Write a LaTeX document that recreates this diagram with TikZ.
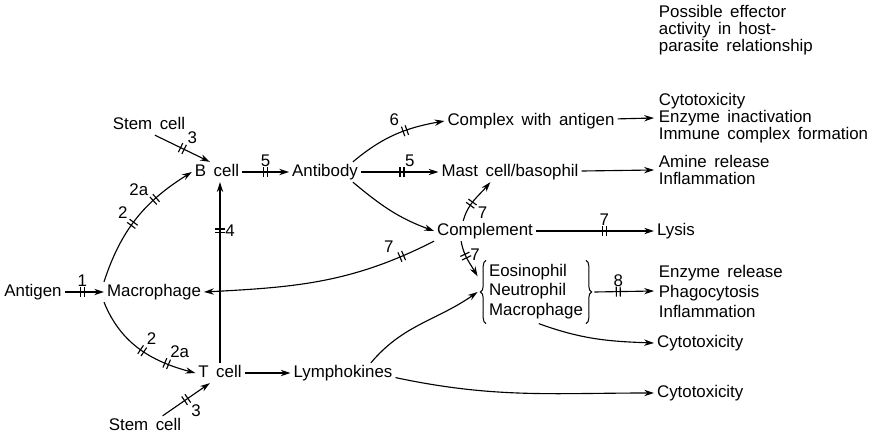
\documentclass[tikz,border=0pt]{standalone}
\usepackage{fontspec}
\setmainfont{Liberation Sans}[WordSpace=1.6]
\usetikzlibrary{arrows.meta,decorations.markings,decorations.pathreplacing}

\begin{document}
\begin{tikzpicture}[x=0.025cm,y=0.025cm,
	font=\fontsize{12}{12}\selectfont,
	lbl/.style={inner sep=2pt,text height=1.6ex,text depth=.3ex},
	grpfont/.style={font=\fontsize{12}{14.2}\selectfont},
	arr/.style={line width=0.8pt,-{Stealth[length=7pt,width=4.5pt]}},
	brc/.style={decorate,decoration={brace,amplitude=4pt},line width=0.7pt},
	dbar/.style={postaction={decorate,decoration={markings,mark=at position #1 with {\draw[-,line width=0.8pt] (-1.4pt,-3.6pt)--(-1.4pt,3.6pt) (1.4pt,-3.6pt)--(1.4pt,3.6pt);}}}}]
	
	\useasboundingbox (0,0) rectangle (872,435);
	
	% cells
	\node[lbl] (antigen) at (33,143) {Antigen};
	\node[lbl] (macro) at (154,143) {Macrophage};
	\node[lbl] (stemB) at (149,310) {Stem cell};
	\node[lbl] (bcell) at (217,263) {B cell};
	\node[lbl] (tcell) at (220,62) {T cell};
	\node[lbl] (stemT) at (145,9) {Stem cell};
	\node[lbl] (antibody) at (325,263) {Antibody};
	\node[lbl] (lymph) at (343,62) {Lymphokines};
	\node[lbl] (cplx) at (531,314) {Complex with antigen};
	\node[lbl] (mast) at (510,263) {Mast cell/basophil};
	\node[lbl] (compl) at (485,204) {Complement};
	\node[grpfont,inner xsep=8pt,inner ysep=1pt] (grp) at (536,143) {\begin{tabular}{@{}l@{}}Eosinophil\\Neutrophil\\Macrophage\end{tabular}};
	\draw[brc] ([xshift=6pt]grp.south west) -- ([xshift=6pt]grp.north west);
	\draw[brc] ([xshift=-6pt]grp.north east) -- ([xshift=-6pt]grp.south east);
	
	% effector activity
	\node[anchor=west,align=left] (title) at (654,405) {Possible effector\\activity in host-\\parasite relationship};
	\node[anchor=west,align=left] (eff1) at (654,317) {Cytotoxicity\\Enzyme inactivation\\Immune complex formation};
	\node[anchor=west,align=left] (eff2) at (654,265) {Amine release\\Inflammation};
	\node[lbl,anchor=west] (lysis) at (654,204) {Lysis};
	\node[anchor=west,align=left,grpfont] (eff3) at (654,144) {Enzyme release\\Phagocytosis\\Inflammation};
	\node[lbl,anchor=west] (cyto1) at (654,92) {Cytotoxicity};
	\node[lbl,anchor=west] (cyto2) at (654,42) {Cytotoxicity};
	
	% pathways
	\draw[arr,dbar=0.45] (antigen) -- node[above,pos=0.45]{1} (macro);
	\draw[arr,dbar=0.45,dbar=0.68] (macro.north west) to[out=72,in=212] node[pos=0.45,above left]{2} node[pos=0.68,above left]{2a} (bcell.west);
	\draw[arr,dbar=0.52,dbar=0.75] (macro.south west) to[out=-68,in=165] node[pos=0.52,above right]{2} node[pos=0.75,above right]{2a} (tcell.west);
	\draw[arr,dbar=0.5] (stemB.-60) -- node[pos=0.5,above right]{3} (bcell.125);
	\draw[arr,dbar=0.5] (stemT.30) -- node[pos=0.5,below right]{3} (tcell.225);
	\draw[arr,dbar=0.73] (tcell.north) -- node[pos=0.73,right]{4} (tcell.north |- bcell.south);
	\draw[arr] (tcell) -- (lymph);
	\draw[arr,dbar=0.5] (bcell) -- node[pos=0.5,above]{5} (antibody);
	\draw[arr,dbar=0.6] (antibody.20) to[out=40,in=190] node[pos=0.6,above left]{6} (cplx.west);
	\draw[arr,dbar=0.53] (antibody) -- node[pos=0.63,above]{5} (mast);
	\draw[arr] (antibody.-20) to[out=-40,in=160] (compl.west);
	\draw[arr,dbar=0.15] (compl.south west) to[out=207,in=3] node[pos=0.15,above left]{7} (macro.east);
	\draw[arr,dbar=0.4] (compl.155) to[out=75,in=230] node[pos=0.45,below right]{7} ([xshift=-14pt]mast.south);
	\draw[arr,dbar=0.4] (compl.203) to[out=-80,in=120] node[pos=0.35,right]{7} (grp.165);
	\draw[arr,dbar=0.58] (compl) -- node[pos=0.58,above]{7} (lysis);
	\draw[arr] (cplx) -- (eff1.west);
	\draw[arr] (mast) -- (eff2.west);
	\draw[arr,dbar=0.4] (grp.east) -- node[pos=0.4,above]{8} (eff3.west);
	\draw[arr] (grp.-85) to[out=-20,in=178] (cyto1.west);
	\draw[arr] (lymph.20) to[out=50,in=215] (grp.west);
	\draw[arr] (lymph.-5) to[out=-12,in=180] (cyto2.west);
\end{tikzpicture}
\end{document}
